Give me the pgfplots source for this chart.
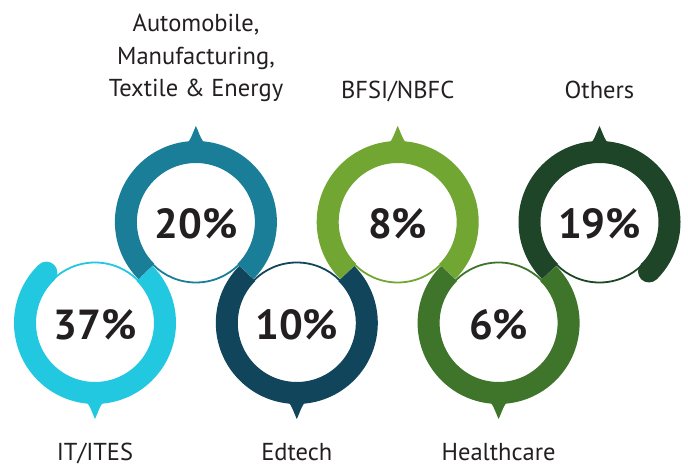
\documentclass[border=0pt]{standalone}
\usepackage{pgfplots}
\pgfplotsset{compat=1.18}
\usepackage{pgfplotstable}
\usepackage{fontspec}
\setmainfont{PT Sans}
\definecolor{cIT}{HTML}{22C8DF}
\definecolor{cAU}{HTML}{1A7E99}
\definecolor{cED}{HTML}{10455C}
\definecolor{cBF}{HTML}{72A632}
\definecolor{cHC}{HTML}{3E752A}
\definecolor{cOT}{HTML}{1E4528}
\definecolor{txt}{HTML}{231F20}

\pgfplotstableread{
x y pct
95.0 145 37
195.9 246 20
296.8 145 10
397.7 246 8
498.6 145 6
599.5 246 19
}\rings

% thin guide circle
\newcommand\thin[3]{\draw[#1, line width=1.8pt] (axis cs:#2,#3) circle[radius=60.5pt];}
% thick arc
\newcommand\band[5]{\draw[#1, line width=22pt, line cap=butt] (axis cs:#2,#3) ++(#4:70pt) arc[start angle=#4, end angle=#5, radius=70pt];}
\newcommand\ptop[3]{\fill[#1] (axis cs:#2,#3) ++(-12pt,77pt) .. controls ++(6pt,1pt) and ++(-3pt,-6pt) .. ++(12pt,19pt) .. controls ++(3pt,-6pt) and ++(-6pt,1pt) .. ++(12pt,-19pt) -- cycle;}
\newcommand\pbot[3]{\fill[#1] (axis cs:#2,#3) ++(-12pt,-77pt) .. controls ++(6pt,-1pt) and ++(-3pt,6pt) .. ++(12pt,-19pt) .. controls ++(3pt,6pt) and ++(-6pt,-1pt) .. ++(12pt,19pt) -- cycle;}

\begin{document}
\begin{tikzpicture}
\begin{axis}[x=1pt, y=1pt, xmin=0, xmax=688, ymin=0, ymax=468,
  hide axis, clip=false]
\thin{cIT}{95.0}{145}
\thin{cAU}{195.9}{246}
\thin{cED}{296.8}{145}
\thin{cBF}{397.7}{246}
\thin{cHC}{498.6}{145}
\thin{cOT}{599.5}{246}

\band{cIT}{95.0}{145}{134}{405}
\band{cAU}{195.9}{246}{-45}{225}
\band{cED}{296.8}{145}{135}{405}
\band{cBF}{397.7}{246}{-45}{225}
\band{cHC}{498.6}{145}{135}{405}
\band{cOT}{599.5}{246}{-45}{225}

\fill[cIT] (axis cs:95.0,145) ++(134:70pt) circle[radius=11pt];
\fill[cOT] (axis cs:599.5,246) ++(-45:70pt) circle[radius=11pt];

\pbot{cIT}{95.0}{145}
\ptop{cAU}{195.9}{246}
\pbot{cED}{296.8}{145}
\ptop{cBF}{397.7}{246}
\pbot{cHC}{498.6}{145}
\ptop{cOT}{599.5}{246}

\addplot[draw=none, mark=none, point meta=explicit symbolic,
  nodes near coords={\pgfplotspointmeta\%},
  nodes near coords align=center,
  every node near coord/.append style={anchor=center, inner sep=0pt, text=txt,
     font=\fontsize{42}{42}\selectfont\bfseries, yshift=-2pt}]
  table[x=x, y=y, meta=pct] {\rings};

\begin{scope}[every node/.style={text=txt, inner sep=0pt, anchor=base, font=\fontsize{24.5}{30}\selectfont}]
\node at (axis cs:196,436.3) {Automobile,};
\node at (axis cs:196,403.7) {Manufacturing,};
\node at (axis cs:196,371.3) {Textile \& Energy};
\node at (axis cs:397.7,369) {BFSI/NBFC};
\node at (axis cs:599.5,369) {Others};
\node at (axis cs:95,7) {IT/ITES};
\node at (axis cs:296.8,7) {Edtech};
\node at (axis cs:498.6,7) {Healthcare};
\end{scope}
\end{axis}
\pgfresetboundingbox
\path (0,0) rectangle (688pt,468pt);
\end{tikzpicture}
\end{document}
